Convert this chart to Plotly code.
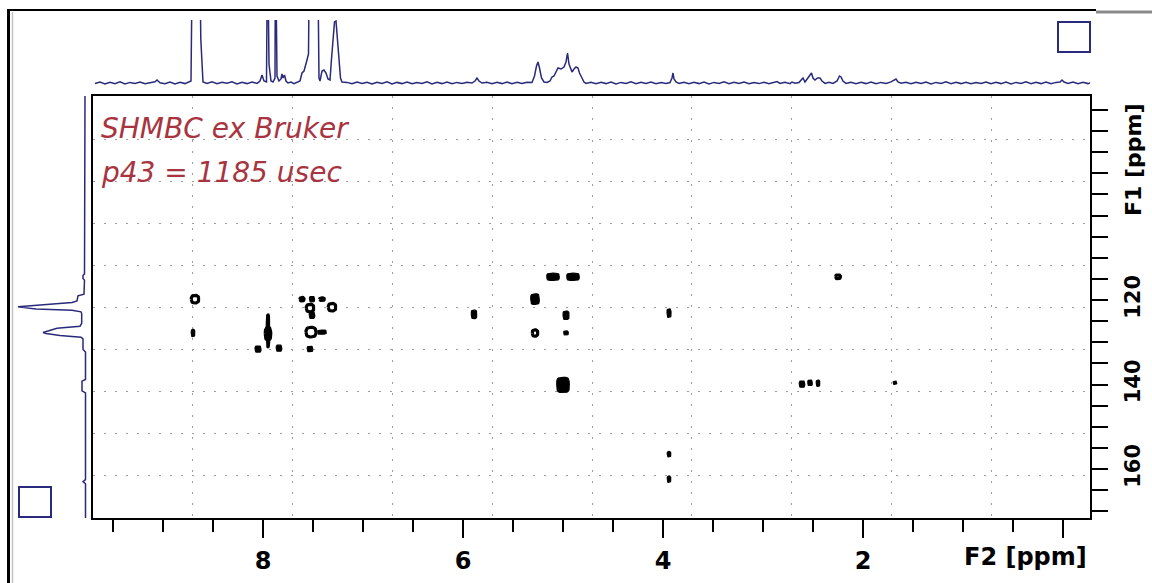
import numpy as np
import plotly.graph_objects as go

W, H = 1152, 583

# ---- 1D projection along F2 (1H), ppm and intensity above baseline ----
top_ppm = [9.68, 9.63, 9.58, 9.53, 9.48, 9.43, 9.38, 9.33, 9.28, 9.23, 9.18, 9.13, 9.08, 9.06, 9.03,
           8.98, 8.93, 8.88, 8.83, 8.78, 8.74, 8.72, 8.705, 8.665, 8.635, 8.622, 8.61, 8.60,
           8.56, 8.51, 8.46, 8.41, 8.36, 8.31, 8.26, 8.21, 8.16, 8.11, 8.06, 8.03, 8.01, 7.99,
           7.965, 7.955, 7.94, 7.92, 7.90, 7.88, 7.875, 7.86, 7.84, 7.82, 7.81, 7.80, 7.785,
           7.77, 7.75, 7.72, 7.69, 7.66, 7.63, 7.61, 7.59, 7.56, 7.545, 7.535, 7.49, 7.455,
           7.44, 7.43, 7.41, 7.39, 7.37, 7.35, 7.33, 7.315, 7.30, 7.285, 7.27, 7.255, 7.24,
           7.225, 7.21, 7.16, 7.11, 7.06, 7.01, 6.96, 6.91, 6.86, 6.81, 6.76, 6.71, 6.66, 6.61,
           6.56, 6.51, 6.46, 6.41, 6.36, 6.31, 6.26, 6.21, 6.16, 6.11, 6.06, 6.01, 5.96, 5.91,
           5.88, 5.86, 5.84, 5.81, 5.76, 5.71, 5.66, 5.61, 5.56, 5.51, 5.46, 5.41, 5.36, 5.31,
           5.285, 5.265, 5.25, 5.235, 5.215, 5.19, 5.16, 5.13, 5.11, 5.09, 5.065, 5.05, 5.02,
           4.99, 4.97, 4.955, 4.94, 4.91, 4.89, 4.87, 4.85, 4.835, 4.81, 4.79, 4.77, 4.72, 4.67,
           4.62, 4.57, 4.52, 4.47, 4.42, 4.37, 4.32, 4.27, 4.22, 4.17, 4.12, 4.07, 4.02, 3.97,
           3.93, 3.91, 3.90, 3.89, 3.87, 3.84, 3.79, 3.74, 3.69, 3.64, 3.59, 3.54, 3.49, 3.44,
           3.39, 3.34, 3.29, 3.24, 3.19, 3.14, 3.09, 3.04, 2.99, 2.94, 2.89, 2.86, 2.83, 2.78,
           2.73, 2.71, 2.68, 2.64, 2.61, 2.60, 2.58, 2.555, 2.53, 2.515, 2.50, 2.48, 2.455,
           2.43, 2.41, 2.38, 2.34, 2.30, 2.26, 2.235, 2.22, 2.20, 2.17, 2.12, 2.07, 2.02, 1.97,
           1.92, 1.87, 1.82, 1.77, 1.72, 1.69, 1.67, 1.65, 1.62, 1.57, 1.52, 1.47, 1.42, 1.37,
           1.32, 1.27, 1.22, 1.17, 1.12, 1.07, 1.02, 0.97, 0.92, 0.87, 0.82, 0.77, 0.72, 0.67,
           0.62, 0.57, 0.52, 0.47, 0.42, 0.37, 0.32, 0.27, 0.22, 0.17, 0.12, 0.07, 0.03, 0.01,
           -0.01, -0.05, -0.10, -0.15, -0.20, -0.25, -0.29]
top_int = [0.5, 2.0, 0.0, 1.8, 0.4, 2.1, 0.0, 1.6, 0.6, 2.0, 0.2, 1.2, 2.2, 4, 1.2,
           0.3, 2.0, 0.1, 1.7, 0.4, 1.9, 3, 150, 85, 150, 45, 12, 2,
           0.6, 2.1, 0.2, 1.8, 0.7, 2.2, 0.1, 1.7, 0.4, 2.0, 0.6, 3, 9, 3,
           2, 150, 20, 3, 2, 6, 150, 8, 3, 5, 10, 6, 9,
           3, 1, 1.9, 0.3, 1.8, 3, 11, 13, 24, 30, 150, 90, 150,
           6, 3, 13, 14, 11, 5, 4, 25, 45, 62, 63, 45, 20,
           6, 2, 1.6, 0.2, 2.0, 0.5, 1.7, 0.0, 1.8, 0.6, 2.1, 0.1, 1.6, 0.4,
           2.0, 0.2, 1.5, 0.5, 2.1, 0.1, 1.7, 0.4, 2.0, 0.2, 1.6, 0.6, 1.8, 1.0,
           3, 6, 3, 1.0, 1.8, 0.3, 1.7, 0.4, 2.0, 0.2, 1.7, 0.5, 1.8, 1.5,
           8, 18, 22, 16, 6, 2, 1.5, 3, 7, 8, 13, 16, 15,
           17, 22, 31, 20, 12, 15, 17, 16, 11, 6, 2, 0.6, 1.8, 0.3,
           1.7, 0.4, 2.0, 0.1, 1.6, 0.6, 2.1, 0.2, 1.7, 0.5, 2.0, 0.3, 1.6, 0.6,
           1.5, 6, 11, 5, 2, 0.6, 1.8, 0.2, 1.7, 0.4, 2.0, 0.1, 1.6, 0.6,
           2.1, 0.2, 1.7, 0.5, 2.0, 0.3, 1.6, 0.4, 1.8, 0.2, 1.7, 2.5, 0.6, 1.8,
           0.4, 2, 0.8, 1.5, 5, 6, 2, 5, 9, 11, 6, 4, 6,
           6, 3, 0.6, 1.8, 0.5, 3, 8, 7, 3, 0.6, 1.8, 0.3, 1.7, 0.4,
           2.0, 0.2, 1.6, 0.6, 2.1, 4, 5, 2, 0.8, 1.8, 0.2, 1.7, 0.5, 2.0,
           0.1, 1.6, 0.6, 2.1, 0.2, 1.7, 0.4, 1.8, 0.3, 1.6, 0.6, 2.0, 0.2, 1.7,
           0.4, 2.0, 0.1, 1.6, 0.6, 2.1, 0.2, 1.7, 0.4, 2.0, 0.2, 1.6, 2, 4,
           2, 0.6, 2.0, 0.2, 1.7, 0.4, 1.6]

# ---- 1D projection along F1 (13C) ----
left_ppm = [71.7, 80, 90, 100, 108, 113.8, 114.2, 114.9, 115.3, 117, 118.6, 119.0, 120.2, 120.6,
            121.2, 121.6, 121.8, 122.1, 122.4, 122.8, 123.2, 125.5, 126.2, 126.7, 127.7, 127.9,
            128.4, 128.8, 129.2, 131.7, 132.3, 138.8, 139.2, 141.5, 142, 162.5, 163, 163.5, 172]
left_int = [1, 1, 0.8, 1, 1.2, 1.5, 3, 3, 1.5, 1.5, 2, 8, 9, 14,
            48, 68, 62, 50, 14, 5, 4.3, 4.3, 6, 29, 43, 40,
            26, 5, 3, 3, 0.5, 0.5, 4, 4, 0.5, 0.5, 3, 0.5, 0.5]

# ---- 2D cross peaks: F2 / F1 position and contour extent (ppm) ----
ring_f2 = [8.68, 7.95, 7.53, 7.31, 7.52, 5.28, 2.25, 7.61, 7.41]
ring_f1 = [119.8, 128.0, 121.9, 121.7, 127.6, 127.8, 114.5, 119.8, 119.8]
ring_w = [0.075, 0.055, 0.075, 0.075, 0.10, 0.055, 0.05, 0.04, 0.045]
ring_h = [1.8, 3.0, 1.8, 1.8, 2.3, 1.5, 0.9, 0.85, 0.65]

blob_f2 = [8.70, 7.95, 8.05, 7.84, 7.51, 7.41, 7.53, 7.51, 5.10, 4.90, 5.28, 5.89, 4.97,
           3.94, 4.97, 5.00, 2.61, 2.53, 2.45, 1.68, 3.94, 3.94]
blob_f1 = [127.8, 127.3, 131.6, 131.4, 123.6, 127.6, 131.6, 119.8, 114.5, 114.5, 119.8, 123.4,
           123.6, 123.1, 127.8, 140.1, 139.9, 139.6, 139.7, 139.6, 156.5, 162.4]
blob_w = [0.035, 0.035, 0.06, 0.055, 0.055, 0.085, 0.055, 0.05, 0.125, 0.125, 0.085, 0.055,
          0.06, 0.04, 0.045, 0.125, 0.055, 0.045, 0.035, 0.035, 0.035, 0.035]
blob_h = [1.7, 8.0, 1.5, 1.5, 1.5, 1.0, 1.3, 1.3, 1.7, 1.7, 2.5, 2.0, 2.0,
          2.0, 1.0, 3.6, 1.5, 1.3, 1.5, 0.8, 1.3, 1.5]

# gridline positions and axis ticks
grid_f2 = [8.71, 7.71, 6.71, 5.71, 4.71, 3.72, 2.72, 1.72, 0.72]
grid_f1 = [82.0, 92.0, 101.9, 111.8, 121.7, 131.7, 141.7, 151.6, 161.6]
f2_ticks = [8, 6, 4, 2, 0]
f2_labels = ["8", "6", "4", "2", ""]
f1_ticks = [120, 140, 160]
f1_labels = ["120", "140", "160"]

X_RANGE = [9.70, -0.27]
Y_RANGE = [171.6, 71.7]
NAVY = "#2a2a7c"
TEXT_RED = "#a8343f"


def px_x(p):
    return p / W


def px_y(p):
    return 1 - p / H


def outlines(cx, cy, w, h, n):
    """Closed superellipse outlines, one per peak, separated by gaps."""
    t = np.linspace(0, 2 * np.pi, 33)
    c, s = np.cos(t), np.sin(t)
    xs, ys = [], []
    for x0, y0, ww, hh in zip(cx, cy, w, h):
        xs += list(x0 + ww / 2 * np.sign(c) * np.abs(c) ** (2 / n)) + [None]
        ys += list(y0 + hh / 2 * np.sign(s) * np.abs(s) ** (2 / n)) + [None]
    return xs, ys


fig = go.Figure()

# invisible trace carrying the dotted grid subplot
fig.add_trace(go.Scatter(x=[None], y=[None], xaxis="x4", yaxis="y4",
                         showlegend=False, hoverinfo="skip"))

bx, by = outlines(blob_f2, blob_f1, blob_w, blob_h, 4)
fig.add_trace(go.Scatter(x=bx, y=by, mode="lines", fill="toself", fillcolor="black",
                         line=dict(color="black", width=1.2), showlegend=False,
                         xaxis="x", yaxis="y"))
rx, ry = outlines(ring_f2, ring_f1, ring_w, ring_h, 2.6)
fig.add_trace(go.Scatter(x=rx, y=ry, mode="lines",
                         line=dict(color="black", width=3.2), showlegend=False,
                         xaxis="x", yaxis="y"))

fig.add_trace(go.Scatter(x=top_ppm, y=top_int, mode="lines",
                         line=dict(color=NAVY, width=1.5), showlegend=False,
                         xaxis="x2", yaxis="y2"))
fig.add_trace(go.Scatter(x=left_int, y=left_ppm, mode="lines",
                         line=dict(color=NAVY, width=1.5), showlegend=False,
                         xaxis="x3", yaxis="y3"))

main_xdom = [px_x(93), px_x(1090)]
main_ydom = [px_y(518), px_y(96)]
xtickfont = dict(family="DejaVu Sans", size=24, color="black", weight="bold")
ytickfont = dict(family="DejaVu Sans", size=21, color="black", weight="bold")

fig.update_layout(
    width=W, height=H,
    margin=dict(l=0, r=0, t=0, b=0),
    paper_bgcolor="white", plot_bgcolor="rgba(0,0,0,0)",
    font=dict(family="DejaVu Sans"),
    xaxis=dict(domain=main_xdom, range=X_RANGE, anchor="y",
               showgrid=False, zeroline=False,
               showline=True, linecolor="black", linewidth=2, mirror=True,
               tickmode="array", tickvals=f2_ticks, ticktext=f2_labels,
               ticks="outside", ticklen=18, tickwidth=2, tickcolor="black",
               tickfont=xtickfont, ticklabelstandoff=2,
               minor=dict(tickmode="linear", tick0=0, dtick=0.5, ticks="outside",
                          ticklen=12, tickwidth=2, tickcolor="black", showgrid=False)),
    yaxis=dict(domain=main_ydom, range=Y_RANGE, anchor="x", side="right",
               showgrid=False, zeroline=False,
               showline=True, linecolor="black", linewidth=2, mirror=True,
               tickmode="array", tickvals=f1_ticks, ticktext=f1_labels,
               ticks="outside", ticklen=16, tickwidth=2, tickcolor="black",
               tickfont=ytickfont, tickangle=-90, ticklabelstandoff=7,
               minor=dict(tickmode="linear", tick0=0, dtick=5, ticks="outside",
                          ticklen=16, tickwidth=2, tickcolor="black", showgrid=False)),
    xaxis2=dict(domain=main_xdom, range=X_RANGE, anchor="y2", visible=False),
    yaxis2=dict(domain=[px_y(87), px_y(20)], range=[-3, 64], anchor="x2", visible=False),
    xaxis3=dict(domain=[px_x(10), px_x(88)], range=[76, -2], anchor="y3", visible=False),
    yaxis3=dict(domain=main_ydom, range=Y_RANGE, anchor="x3", visible=False),
    xaxis4=dict(overlaying="x", range=X_RANGE, anchor="y4",
                tickmode="array", tickvals=grid_f2, showticklabels=False, ticks="",
                showgrid=True, gridcolor="#9c9c9c", gridwidth=1.3, griddash="2px,9px",
                zeroline=False, showline=False),
    yaxis4=dict(overlaying="y", range=Y_RANGE, anchor="x4",
                tickmode="array", tickvals=grid_f1, showticklabels=False, ticks="",
                showgrid=True, gridcolor="#9c9c9c", gridwidth=1.3, griddash="2px,9px",
                zeroline=False, showline=False),
)

# axis titles and experiment notes
fig.add_annotation(text="F2 [ppm]", x=px_x(1025), y=px_y(557), xref="paper", yref="paper",
                   showarrow=False, xanchor="center", yanchor="middle", font=xtickfont)
fig.add_annotation(text="F1 [ppm]", x=px_x(1133), y=px_y(160), xref="paper", yref="paper",
                   showarrow=False, xanchor="center", yanchor="middle", textangle=-90,
                   font=dict(family="DejaVu Sans", size=22, color="black", weight="bold"))
note_font = dict(family="DejaVu Sans", size=28, color=TEXT_RED, style="italic")
fig.add_annotation(text="SHMBC ex Bruker", x=px_x(99), y=px_y(129), xref="paper",
                   yref="paper", showarrow=False, xanchor="left", yanchor="middle",
                   font=note_font)
fig.add_annotation(text="p43 = 1185 usec", x=px_x(99), y=px_y(172), xref="paper",
                   yref="paper", showarrow=False, xanchor="left", yanchor="middle",
                   font=note_font)

# window frame and the two corner boxes
def paper_line(x0, y0, x1, y1, color, width):
    fig.add_shape(type="line", xref="paper", yref="paper",
                  x0=px_x(x0), y0=px_y(y0), x1=px_x(x1), y1=px_y(y1),
                  line=dict(color=color, width=width))


paper_line(8.5, 9, 8.5, 583, "black", 3)
paper_line(12.5, 12, 12.5, 583, "#c4c4c4", 1.5)
paper_line(7, 10, 1096, 10, "black", 2)
paper_line(1096, 12, 1152, 12, "#8a8a8a", 3)
for x0, y0, x1, y1 in [(1058, 22, 1090, 52), (19, 487, 51, 517)]:
    fig.add_shape(type="rect", xref="paper", yref="paper",
                  x0=px_x(x0), y0=px_y(y0), x1=px_x(x1), y1=px_y(y1),
                  line=dict(color=NAVY, width=2))

fig.write_html("out.html")
